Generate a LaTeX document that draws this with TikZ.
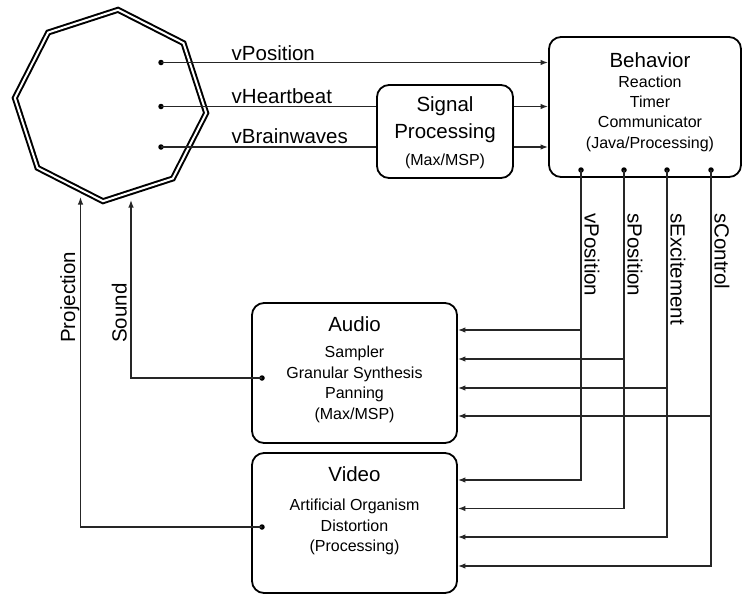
\documentclass[tikz,border=0pt]{standalone}
\usepackage{fontspec}
\setmainfont{Liberation Sans}
\usetikzlibrary{shapes.geometric,arrows.meta}
\begin{document}
\begin{tikzpicture}[x=1pt,y=-1pt,
  box/.style={draw=black, line width=1.8pt, rounded corners=12pt, inner sep=0pt},
  conn/.style={draw=black!85, line width=1.3pt, -{Latex[length=7.5pt,width=5.5pt]}},
  plain/.style={draw=black!85, line width=1.3pt},
  big/.style={font=\fontsize{20.5}{24}\selectfont, inner sep=0pt, anchor=base},
  small/.style={font=\fontsize{16}{19}\selectfont, inner sep=0pt, anchor=base},
  dot/.style={circle, fill=black, inner sep=0pt, minimum size=5.5pt}]
\useasboundingbox (0,0) rectangle (744,595);

% octagon
\node[regular polygon, regular polygon sides=8, minimum size=192pt, shape border rotate=18,
      draw=black, line width=2pt, double=white, double distance=2pt, inner sep=0pt] (oct) at (110.5,105.5) {};

% boxes
\node[box, minimum width=192pt, minimum height=140pt] (beh) at (645,107) {};
\node[box, minimum width=136pt, minimum height=93pt] (sp) at (445,131.5) {};
\node[box, minimum width=205pt, minimum height=140pt] (aud) at (354.5,373) {};
\node[box, minimum width=205pt, minimum height=140pt] (vid) at (354.5,523) {};

% box texts
\node[big] (behT) at (650,67) {Behavior};
\node[small] (beh1) at (650,87) {Reaction};
\node[small] (beh2) at (650,107) {Timer};
\node[small] (beh3) at (650,127) {Communicator};
\node[small] (beh4) at (650,148) {(Java/Processing)};

\node[big] (spT1) at (445,111.5) {Signal};
\node[big] (spT2) at (445,138.5) {Processing};
\node[small] (sp1) at (445,165.5) {(Max/MSP)};

\node[big] (audT) at (354.5,331) {Audio};
\node[small] (aud1) at (354.5,357.5) {Sampler};
\node[small] (aud2) at (354.5,378) {Granular Synthesis};
\node[small] (aud3) at (354.5,398.5) {Panning};
\node[small] (aud4) at (354.5,419) {(Max/MSP)};

\node[big] (vidT) at (354.5,481) {Video};
\node[small] (vid1) at (354.5,510) {Artificial Organism};
\node[small] (vid2) at (354.5,531) {Distortion};
\node[small] (vid3) at (354.5,551.5) {(Processing)};

% dots
\node[dot] (o1) at (161,62.5) {};
\node[dot] (o2) at (161,106.5) {};
\node[dot] (o3) at (161,147) {};
\node[dot] (b1) at (581,170) {};
\node[dot] (b2) at (624,170) {};
\node[dot] (b3) at (667,170) {};
\node[dot] (b4) at (711,170) {};
\node[dot] (ad) at (262,378) {};
\node[dot] (vd) at (262,527) {};
\coordinate (soundEnd) at (131,200);
\coordinate (projEnd) at (80.5,197);

% octagon outputs
\draw[conn] (o1.center) -- (beh.west |- o1.center);
\draw[plain] (o2.center) -- (sp.west |- o2.center);
\draw[plain] (o3.center) -- (sp.west |- o3.center);
\draw[conn] (sp.east |- o2.center) -- (beh.west |- o2.center);
\draw[conn] (sp.east |- o3.center) -- (beh.west |- o3.center);

\node[big, anchor=base west] (lvPos) at (231.5,60.5) {vPosition};
\node[big, anchor=base west] (lvHb) at (231.5,103) {vHeartbeat};
\node[big, anchor=base west] (lvBw) at (231.5,143.5) {vBrainwaves};

% behavior outputs
\draw[conn] (b1.center) |- (aud.east |- 0,330);
\draw[conn] (b1.center) |- (vid.east |- 0,480);
\draw[conn] (b2.center) |- (aud.east |- 0,359);
\draw[conn] (b2.center) |- (vid.east |- 0,508.5);
\draw[conn] (b3.center) |- (aud.east |- 0,388);
\draw[conn] (b3.center) |- (vid.east |- 0,537);
\draw[conn] (b4.center) |- (aud.east |- 0,416);
\draw[conn] (b4.center) |- (vid.east |- 0,566);

\node[big, rotate=-90, anchor=base west] (lbvPos) at (584.5,213) {vPosition};
\node[big, rotate=-90, anchor=base west] (lbsPos) at (627.5,213) {sPosition};
\node[big, rotate=-90, anchor=base west] (lbsExc) at (670.5,213) {sExcitement};
\node[big, rotate=-90, anchor=base west] (lbsCon) at (714.5,213) {sControl};

% sound and projection
\draw[conn] (ad.center) -| (soundEnd);
\draw[conn] (vd.center) -| (projEnd);
\node[big, rotate=90, anchor=base west] (lProj) at (75,343) {Projection};
\node[big, rotate=90, anchor=base west] (lSound) at (126.5,343) {Sound};
\end{tikzpicture}
\end{document}
